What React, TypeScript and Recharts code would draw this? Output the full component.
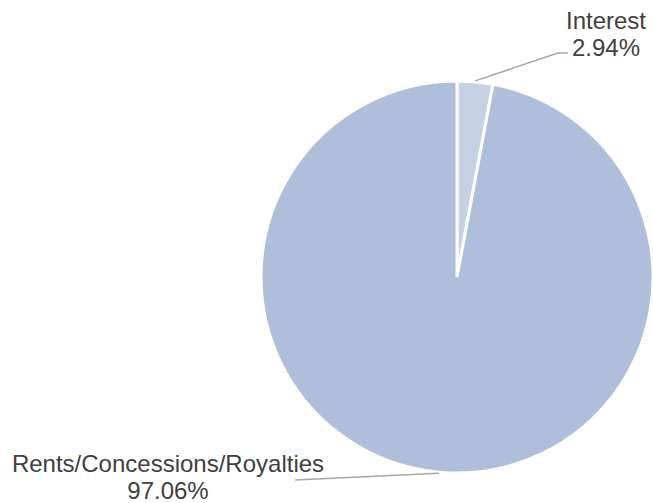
import React from 'react';
import { PieChart, Pie, Cell } from 'recharts';

const categories = ['Interest', 'Rents/Concessions/Royalties'];
const shares = [2.94, 97.06];
const sliceColors = ['#c7d1e5', '#afbfdb'];

const data = categories.map((name, i) => ({ name, value: shares[i] }));
const total = shares.reduce((a, b) => a + b, 0);

// label layout relative to pie centre (text centre, leader elbow, leader end)
const labelLayout: Record<string, { tx: number; ty: number; ex: number; ey: number; fx: number; fy: number }> = {
  Interest: { tx: 149, ty: -257, ex: 101, ey: -224, fx: 111, fy: -224 },
  'Rents/Concessions/Royalties': { tx: -289, ty: 186, ex: -162, ey: 203, fx: -162, fy: 203 },
};

const RAD = Math.PI / 180;

const renderLabel = (props: any) => {
  const { cx, cy, midAngle, outerRadius, name, value } = props;
  const L = labelLayout[name];
  if (!L) return null;
  const sx = cx + (outerRadius + 1) * Math.cos(-midAngle * RAD);
  const sy = cy + (outerRadius + 1) * Math.sin(-midAngle * RAD);
  const pct = ((value / total) * 100).toFixed(2) + '%';
  return (
    <g>
      <polyline
        points={`${sx},${sy} ${cx + L.ex},${cy + L.ey} ${cx + L.fx},${cy + L.fy}`}
        fill="none"
        stroke="#a6a6a6"
        strokeWidth={1.5}
      />
      <text
        x={cx + L.tx}
        y={cy + L.ty}
        textAnchor="middle"
        dominantBaseline="central"
        fill="#404040"
        fontSize={24}
        fontFamily="'Liberation Sans', Arial, sans-serif"
      >
        {name}
      </text>
      <text
        x={cx + L.tx}
        y={cy + L.ty + 27}
        textAnchor="middle"
        dominantBaseline="central"
        fill="#404040"
        fontSize={24}
        fontFamily="'Liberation Sans', Arial, sans-serif"
      >
        {pct}
      </text>
    </g>
  );
};

export default function App() {
  return (
    <div style={{ position: 'absolute', left: 0, top: 0, width: 653, height: 503, background: '#fff' }}>
      <PieChart width={653} height={503}>
        <Pie
          data={data}
          dataKey="value"
          nameKey="name"
          cx={452}
          cy={272}
          outerRadius={196}
          startAngle={90}
          endAngle={-270}
          stroke="#ffffff"
          strokeWidth={3}
          label={renderLabel}
          labelLine={false}
          isAnimationActive={false}
        >
          {data.map((d, i) => (
            <Cell key={d.name} fill={sliceColors[i]} />
          ))}
        </Pie>
      </PieChart>
    </div>
  );
}
